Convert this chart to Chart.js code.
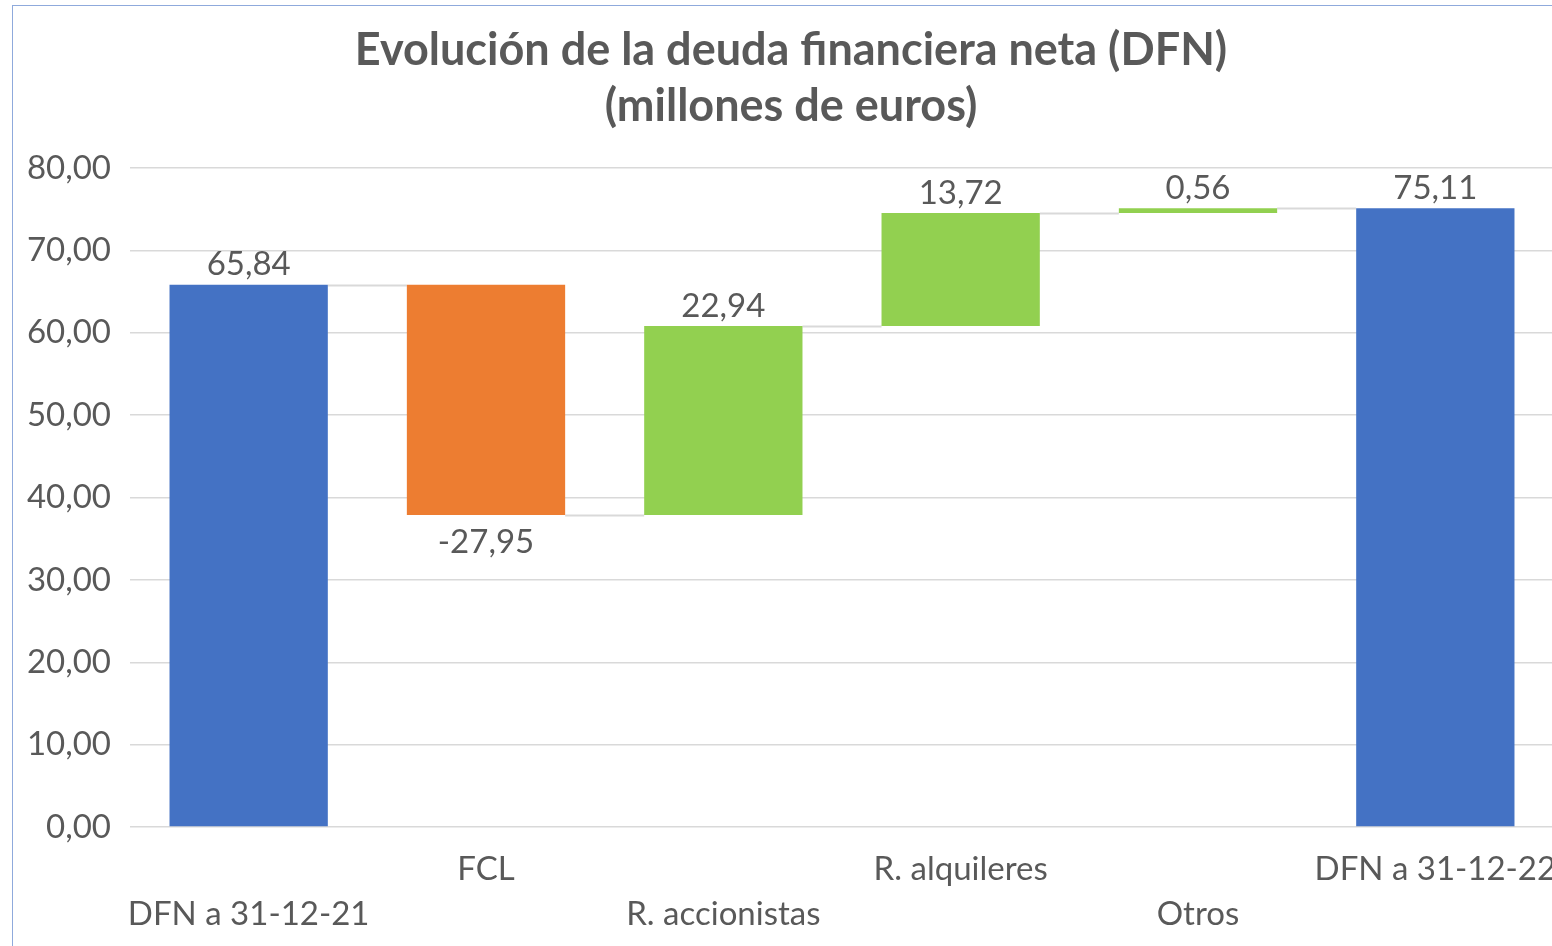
<!DOCTYPE html>
<html><head><meta charset="utf-8">
<script src="https://cdn.jsdelivr.net/npm/chart.js@4"></script>
<style>
html,body{margin:0;padding:0;background:#fff;overflow:hidden;width:1552px;height:946px;}
#frame{position:absolute;left:12px;top:5px;width:1700px;height:1100px;border-left:1.5px solid #8faadc;border-top:1.5px solid #8faadc;}
#wrap{position:absolute;left:0;top:0;width:1554px;height:946px;}
</style></head><body>
<div id="frame"></div>
<div id="wrap"><canvas id="c"></canvas></div>
<script>
const categories = ['DFN a 31-12-21','FCL','R. accionistas','R. alquileres','Otros','DFN a 31-12-22'];
const changes = [65.84, -27.95, 22.94, 13.72, 0.56, 75.11];
const isTotal = [true, false, false, false, false, true];
const labelRow = [1, 0, 1, 0, 1, 0];
const yMin = 0, yMax = 80, yStep = 10;
const titleLines = ['Evolución de la deuda financiera neta (DFN)', '(millones de euros)'];

const COLORS = {total:'#4472c4', neg:'#ed7d31', pos:'#92d050'};
const TXT = '#595959';
const FONT = 'Lato, "Open Sans", sans-serif';

// waterfall ranges
const ranges = [];
const levels = [];
let run = 0;
changes.forEach((v, i) => {
  if (isTotal[i]) { ranges.push([0, v]); run = v; }
  else { ranges.push([run, run + v]); run = run + v; }
  levels.push(run);
});
const colors = changes.map((v, i) => isTotal[i] ? COLORS.total : (v < 0 ? COLORS.neg : COLORS.pos));
const fmt = v => v.toFixed(2).replace('.', ',');

const waterfallPlugin = {
  id: 'wf',
  beforeDatasetsDraw(chart) {
    const meta = chart.getDatasetMeta(0);
    const y = chart.scales.y;
    const ctx = chart.ctx;
    ctx.save();
    ctx.strokeStyle = '#d9d9d9';
    ctx.lineWidth = 2;
    for (let i = 0; i < meta.data.length - 1; i++) {
      const a = meta.data[i], b = meta.data[i + 1];
      const py = Math.round(y.getPixelForValue(levels[i])) + 0.5;
      ctx.beginPath();
      ctx.moveTo(a.x + a.width / 2, py);
      ctx.lineTo(b.x - b.width / 2, py);
      ctx.stroke();
    }
    ctx.restore();
  },
  afterDatasetsDraw(chart) {
    const meta = chart.getDatasetMeta(0);
    const y = chart.scales.y;
    const ctx = chart.ctx;
    ctx.save();
    ctx.fillStyle = TXT;
    ctx.font = '33px ' + FONT;
    ctx.textAlign = 'center';
    ctx.textBaseline = 'middle';
    meta.data.forEach((el, i) => {
      const r = ranges[i];
      if (changes[i] < 0) {
        ctx.fillText(fmt(changes[i]), el.x, y.getPixelForValue(Math.min(r[0], r[1])) + 27);
      } else {
        ctx.fillText(fmt(changes[i]), el.x, y.getPixelForValue(Math.max(r[0], r[1])) - 20);
      }
    });
    ctx.restore();
  },
  afterDraw(chart) {
    const ctx = chart.ctx;
    ctx.save();
    ctx.fillStyle = TXT;
    ctx.font = 'bold 45px ' + FONT;
    ctx.textAlign = 'center';
    ctx.textBaseline = 'middle';
    titleLines.forEach((t, i) => ctx.fillText(t, 791, 50 + i * 56));
    ctx.restore();
  }
};

new Chart(document.getElementById('c'), {
  type: 'bar',
  data: {
    labels: categories,
    datasets: [{
      data: ranges,
      backgroundColor: colors,
      borderWidth: 0,
      barPercentage: 0.667,
      categoryPercentage: 1
    }]
  },
  options: {
    responsive: true,
    maintainAspectRatio: false,
    animation: false,
    layout: {padding: {left: 0, right: 0, top: 168, bottom: 0}},
    plugins: {
      legend: {display: false},
      tooltip: {enabled: false},
      title: {display: false}
    },
    scales: {
      x: {
        afterFit: s => { s.paddingLeft = 0; s.paddingRight = 0; s.height = 119; },
        grid: {display: false, drawTicks: false},
        border: {display: false},
        ticks: {
          color: TXT,
          font: {family: FONT, size: 33, lineHeight: 1.36},
          padding: 20,
          maxRotation: 0,
          autoSkip: false,
          callback: (val, idx) => labelRow[idx] === 0 ? [categories[idx], ''] : ['', categories[idx]]
        }
      },
      y: {
        min: yMin, max: yMax,
        afterFit: s => { s.width = 130; s.paddingTop = 0; s.paddingBottom = 0; },
        grid: {color: '#d9d9d9', lineWidth: 1.5, drawTicks: false},
        border: {display: false},
        ticks: {
          stepSize: yStep,
          color: TXT,
          padding: 19,
          font: {family: FONT, size: 33},
          callback: v => fmt(v)
        }
      }
    }
  },
  plugins: [waterfallPlugin]
});
</script>
</body></html>
